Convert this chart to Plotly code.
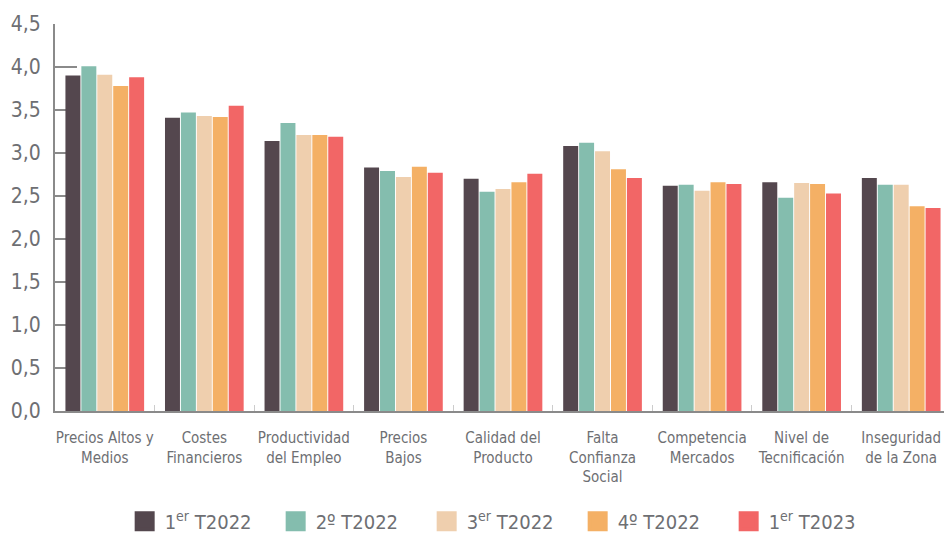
import plotly.graph_objects as go

categories = ["Precios Altos y<br>Medios", "Costes<br>Financieros", "Productividad<br>del Empleo",
              "Precios<br>Bajos", "Calidad del<br>Producto", "Falta<br>Confianza<br>Social",
              "Competencia<br>Mercados", "Nivel de<br>Tecnificación", "Inseguridad<br>de la Zona"]

series_names = ["1<sup>er</sup> T2022", "2º T2022", "3<sup>er</sup> T2022", "4º T2022", "1<sup>er</sup> T2023"]
s1_2022 = [3.90, 3.41, 3.14, 2.83, 2.70, 3.08, 2.62, 2.66, 2.71]
s2_2022 = [4.01, 3.47, 3.35, 2.79, 2.55, 3.12, 2.63, 2.48, 2.63]
s3_2022 = [3.91, 3.43, 3.21, 2.72, 2.58, 3.02, 2.56, 2.65, 2.63]
s4_2022 = [3.78, 3.42, 3.21, 2.84, 2.66, 2.81, 2.66, 2.64, 2.38]
s1_2023 = [3.88, 3.55, 3.19, 2.77, 2.76, 2.71, 2.64, 2.53, 2.36]
colors = ["#54474E", "#84BDAE", "#EFCFAE", "#F4B065", "#F26666"]

y_ticks = [0, 0.5, 1, 1.5, 2, 2.5, 3, 3.5, 4, 4.5]
y_tick_text = ["0,0", "0,5", "1,0", "1,5", "2,0", "2,5", "3,0", "3,5", "4,0", "4,5"]

FONT = "DejaVu Sans Condensed, Roboto, sans-serif"
GREY = "#6E6F73"

fig = go.Figure()
for name, vals, col in zip(series_names, [s1_2022, s2_2022, s3_2022, s4_2022, s1_2023], colors):
    fig.add_trace(go.Bar(x=categories, y=vals, marker=dict(color=col, line=dict(width=0)),
                         name=name, showlegend=False))
for name, col in zip(series_names, colors):
    fig.add_trace(go.Scatter(x=[None], y=[None], mode="markers", name=name,
                             marker=dict(symbol="square", size=16, color=col,
                                         line=dict(color=col, width=4))))

fig.update_layout(
    width=944, height=536,
    margin=dict(l=55, r=0, t=24, b=125, autoexpand=False),
    paper_bgcolor="white", plot_bgcolor="white",
    barmode="group", bargap=0.2, bargroupgap=0.06,
    font=dict(family=FONT, color=GREY),
    showlegend=True,
    legend=dict(orientation="h", x=0.503, xanchor="center", y=-0.285, yanchor="middle",
                font=dict(size=20, color=GREY), itemwidth=30, traceorder="normal",
                entrywidth=106, entrywidthmode="pixels"),
)
fig.update_yaxes(range=[0, 4.5], tickvals=y_ticks, ticktext=y_tick_text, automargin=False,
                 showgrid=False, zeroline=False, showline=True, linecolor="#8A8A8A", linewidth=2,
                 ticks="inside", ticklen=22, tickwidth=2, tickcolor="#8A8A8A",
                 tickfont=dict(size=21, color=GREY), ticklabelstandoff=8,
                 layer="below traces")
fig.update_xaxes(range=[-0.5, 8.43], automargin=False, showgrid=False, showline=True,
                 linecolor="#8A8A8A", linewidth=2,
                 tickson="boundaries", ticks="inside", ticklen=6, tickwidth=1, tickcolor="#CCCCCC",
                 tickfont=dict(size=15, color=GREY), tickangle=0, ticklabelstandoff=12,
                 layer="below traces")

fig.write_html("out.html", config={"displayModeBar": False},
               post_script="document.documentElement.style.overflow='hidden';"
                           "document.body.style.margin='0';document.body.style.overflow='hidden';")
